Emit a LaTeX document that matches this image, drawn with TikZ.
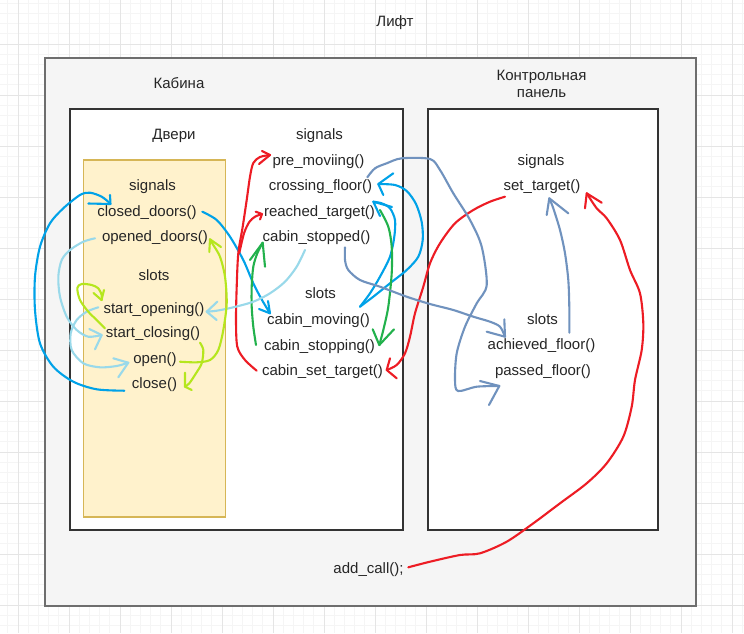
\documentclass[tikz,border=0pt]{standalone}
\usepackage{fontspec}
\setmainfont{Liberation Sans}
\definecolor{cA}{HTML}{00A2E8}
\definecolor{cB}{HTML}{99D9EA}
\definecolor{cL}{HTML}{B5E61D}
\definecolor{cG}{HTML}{22B14C}
\definecolor{cR}{HTML}{ED1C24}
\definecolor{cS}{HTML}{7092BE}
\definecolor{gmin}{HTML}{F5F5F5}
\definecolor{gmaj}{HTML}{E5E5E5}
\definecolor{outerfill}{HTML}{F5F5F5}
\definecolor{outerdraw}{HTML}{6E6E6E}
\definecolor{boxdraw}{HTML}{333333}
\definecolor{doorfill}{HTML}{FFF2CC}
\definecolor{doordraw}{HTML}{D6B656}
\tikzset{
  txt/.style={anchor=base, inner sep=0pt, font=\fontsize{15}{17}\selectfont, text=black!85},
  stroke/.style={line width=2.1pt, line cap=round, line join=round},
}
\begin{document}
\begin{tikzpicture}[x=1pt,y=-1pt]
\useasboundingbox (0,0) rectangle (744,633);
\fill[white] (0,0) rectangle (744,633);
% grid
\foreach \k in {-1,...,71} \draw[gmin, line width=0.8pt] ({18+\k*10.2},0) -- ({18+\k*10.2},633);
\foreach \k in {-4,...,57} \draw[gmin, line width=0.8pt] (0,{44+\k*10.2}) -- (744,{44+\k*10.2});
\foreach \k in {0,...,14} \draw[gmaj, line width=0.8pt] ({18+\k*51},0) -- ({18+\k*51},633);
\foreach \k in {0,...,11} \draw[gmaj, line width=0.8pt] (0,{44+\k*51}) -- (744,{44+\k*51});
% boxes
\draw[fill=outerfill, draw=outerdraw, line width=1.3pt] (45,58) rectangle (696,606);
\draw[fill=white, draw=boxdraw, line width=2pt] (70,109) rectangle (402.5,529.5);
\draw[fill=white, draw=boxdraw, line width=2pt] (427.5,109) rectangle (657.5,529.5);
\draw[fill=doorfill, draw=doordraw, line width=1.2pt] (83.5,160) rectangle (225.5,517);
% titles
\node[txt] (lift) at (395,26.7) {Лифт};
\node[txt] (kab) at (179,88.3) {Кабина};
\node[txt] (pan1) at (541.5,80.7) {Контрольная};
\node[txt] (pan2) at (541.5,97.5) {панель};
\node[txt] (dveri) at (174,139.3) {Двери};
% doors
\node[txt] (sigD) at (152.5,190) {signals};
\node[txt] (closedD) at (147,216.7) {closed\_doors()};
\node[txt] (openedD) at (155,241.7) {opened\_doors()};
\node[txt] (slotsD) at (154,280.7) {slots};
\node[txt] (startOp) at (154,313.3) {start\_opening()};
\node[txt] (startCl) at (153,337.7) {start\_closing()};
\node[txt] (openS) at (155,363.3) {open()};
\node[txt] (closeS) at (154.5,388.3) {close()};
% cabin
\node[txt] (sigC) at (319.5,139) {signals};
\node[txt] (preMov) at (318.5,165.7) {pre\_moviing()};
\node[txt] (crossF) at (320.5,190.7) {crossing\_floor()};
\node[txt] (reachedT) at (319.5,216.7) {reached\_target()};
\node[txt] (cabStopped) at (316.5,241.7) {cabin\_stopped()};
\node[txt] (slotsC) at (320.5,298.3) {slots};
\node[txt] (cabMoving) at (318.5,324) {cabin\_moving()};
\node[txt] (cabStopping) at (319.5,350) {cabin\_stopping()};
\node[txt] (cabSetT) at (322.5,375) {cabin\_set\_target()};
% panel
\node[txt] (sigP) at (541,165) {signals};
\node[txt] (setT) at (542,190.7) {set\_target()};
\node[txt] (slotsP) at (542.5,324) {slots};
\node[txt] (achF) at (541.5,349) {achieved\_floor()};
\node[txt] (passF) at (543,375) {passed\_floor()};
\node[txt] (addCall) at (368.5,573.3) {add\_call();};
% ---- dark blue
\draw[stroke, cA] plot[smooth] coordinates {(124.3,390.7) (96.7,389.3) (73.3,381.7) (53.3,366.7) (40,343.3) (35,310) (35,276.7) (40,246.7) (50,223.3) (63.3,208.3) (80,195) (90,192.7) (101.7,196.7) (110,203.3)};
\draw[stroke, cA] (88.3,203.5) -- (110.5,204) -- (110,195);
\draw[stroke, cA] plot[smooth] coordinates {(202.3,211.7) (216.7,220) (230,236.7) (243.3,260) (253.3,283.3) (262,300) (270,313.3)};
\draw[stroke, cA] (259,309) -- (270,313.3) -- (268,301);
\draw[stroke, cA] plot[smooth] coordinates {(360,306.7) (373.3,296.7) (390,283.3) (406.7,270) (418.3,256.7) (422.7,240) (421.7,222) (416,204) (406.7,191) (395,185) (378.3,184)};
\draw[stroke, cA] (393.3,173.3) -- (378.3,184) -- (383.3,195);
\draw[stroke, cA] plot[smooth] coordinates {(360,306.7) (370,293.3) (380,276.7) (390,256.7) (394.3,236.7) (395,220) (390,208.3) (381.7,203.3) (373.3,201.7)};
\draw[stroke, cA] (392,207) -- (373.3,201.7) -- (380,216);
% ---- green
\draw[stroke, cG] plot[smooth] coordinates {(256,345) (253.3,326.7) (251.7,306.7) (251.7,286.7) (253.3,266.7) (257.3,253.3) (262.7,242.7)};
\draw[stroke, cG] (250,260) -- (262.7,242.7) -- (265,266.7);
\draw[stroke, cG] plot[smooth] coordinates {(380,210) (388.3,226.7) (391.7,246.7) (391.7,273.3) (388.3,306.7) (383.3,330) (379.3,345)};
\draw[stroke, cG] (372.7,329.3) -- (379.3,345) -- (394,329.3);
% ---- red
\draw[stroke, cR] plot[smooth] coordinates {(256.7,370.7) (245,360) (237.3,346.7) (236,320) (236.7,286.7) (238.3,253.3) (242.7,226.7) (246.7,200) (250,176.7) (253.3,163) (260,157) (270,155)};
\draw[stroke, cR] (262,151) -- (270,155) -- (259,164);
\draw[stroke, cR] plot[smooth] coordinates {(239.3,253) (244,233.3) (249.3,222) (255,216.7) (262,214)};
\draw[stroke, cR] (255.7,211.7) -- (262,214) -- (260,219.5);
\draw[stroke, cR] plot[smooth] coordinates {(505,196.7) (490,201.7) (473.3,210) (455,223.3) (440,243.3) (430,263.3) (423.3,286.7) (415,313.3) (410,336.7) (405,353.3) (396.7,365) (386.7,370)};
\draw[stroke, cR] (390,358.3) -- (386.7,370) -- (396.7,378.3);
\draw[stroke, cR] plot[smooth] coordinates {(408.3,567.3) (430,561.7) (460,555) (480,553.3) (506.7,541.7) (533.3,523.3) (560,503.3) (586.7,483.3) (606.7,463.3) (623.3,436.7) (631.7,406.7) (635,380) (641.7,350) (643.3,323.3) (640,293.3) (630,270) (620,240) (606.7,218.3) (596.7,208.3) (586.7,193.3)};
\draw[stroke, cR] (585,208.3) -- (586.7,193.3) -- (601.7,202.7);
% ---- steel blue
\draw[stroke, cS] plot[smooth] coordinates {(367.3,177.3) (375,168.3) (386.7,163.3) (401.7,158.3) (430,159) (440,170) (453.3,193.3) (470,220) (481.7,246.7) (486.7,285) (476.7,303.3) (465,326.7) (456.7,353.3) (455,380) (458,391) (476.7,386.7) (499.3,386)};
\draw[stroke, cS] (480,381) -- (499.3,386) -- (489,405);
\draw[stroke, cS] plot[smooth] coordinates {(345,247.3) (345,260) (348.3,270) (360,280) (380,286.7) (406.7,296.7) (430,304) (453.3,310) (473.3,316.7) (490,321.7) (500,326.7) (505,336.7)};
\draw[stroke, cS] (486.7,331.7) -- (505,336.7) -- (504.3,319.3);
\draw[stroke, cS] plot[smooth] coordinates {(569.3,332.7) (569.3,306.7) (568.3,280) (565,253.3) (560,230) (553.3,208.3) (549.3,198.3)};
\draw[stroke, cS] (546.7,215) -- (549.3,198.3) -- (568.3,213.3);
% ---- light blue
\draw[stroke, cB] plot[smooth] coordinates {(95,238.3) (83.3,241.7) (70,250) (61.7,260) (58.3,276.7) (60,296.7) (66.7,316.7) (76.7,330) (88.3,336.7) (101.7,335)};
\draw[stroke, cB] (89.3,329) -- (101.7,335) -- (95,349.3);
\draw[stroke, cB] plot[smooth] coordinates {(98.3,307.3) (86.7,311.7) (76.7,320) (70.7,333.3) (71.7,350) (83.3,363.3) (100,367.3) (116.7,366) (128.3,362.7)};
\draw[stroke, cB] (113.3,358.3) -- (128.3,362.7) -- (118.3,377.3);
\draw[stroke, cB] plot[smooth] coordinates {(305,250) (296.7,266.7) (285,281.7) (270,293.3) (253.3,301.7) (233.3,307.3) (216.7,310.7) (206.7,311.7)};
\draw[stroke, cB] (217.3,301.7) -- (206.7,311.7) -- (216.7,320);
% ---- lime
\draw[stroke, cL] plot[smooth] coordinates {(105,328.3) (96.7,320) (88.3,311.7) (80,300) (77.3,288) (81.7,284) (91.7,285) (98.3,288.3) (101.7,295) (101.7,300)};
\draw[stroke, cL] (93.5,293) -- (101.5,300) -- (104,290);
\draw[stroke, cL] plot[smooth] coordinates {(180,361.7) (196.7,362.3) (210,360) (218.3,350) (223.3,330) (226.7,303.3) (225,276.7) (220,256.7) (213.3,245) (210,239.3)};
\draw[stroke, cL] (209.3,252) -- (210,239.3) -- (221,247);
\draw[stroke, cL] plot[smooth] coordinates {(200,342.7) (203.3,350) (201.7,363.3) (196,373.3) (189.3,383.3) (185,386.7)};
\draw[stroke, cL] (185,372.7) -- (185,386.7) -- (191.7,390);
\end{tikzpicture}
\end{document}
